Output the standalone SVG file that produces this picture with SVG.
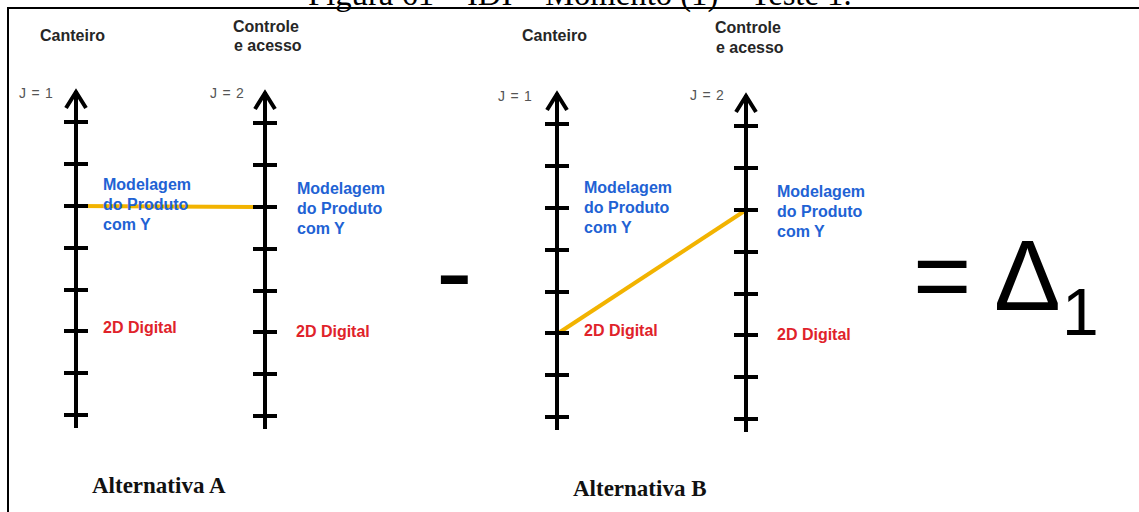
<svg xmlns="http://www.w3.org/2000/svg" xmlns:xlink="http://www.w3.org/1999/xlink" width="1139" height="512" viewBox="0 0 1139 512">
<style>
.hdr{font-family:"Liberation Sans",Arial,sans-serif;font-weight:bold;font-size:16px;fill:#262626}
.j{font-family:"Liberation Sans",Arial,sans-serif;font-size:14px;fill:#555;word-spacing:1.5px}
.blue{font-family:"Liberation Sans",Arial,sans-serif;font-weight:bold;font-size:16px;fill:#2162d4}
.red{font-family:"Liberation Sans",Arial,sans-serif;font-weight:bold;font-size:16px;fill:#e0222a}
.alt{font-family:"Liberation Serif","Times New Roman",serif;font-weight:bold;font-size:23px;fill:#111}
.big{font-family:"Liberation Sans",Arial,sans-serif;fill:#000}
.title{font-family:"Liberation Serif","Times New Roman",serif;font-size:32.7px;fill:#000}
.conn{stroke:#f2b300;stroke-width:4;fill:none;stroke-linecap:butt}
.ax{stroke:#000;stroke-width:4;fill:none}
</style>
<defs>
<g id="axis">
<line class="ax" x1="0" y1="1" x2="0" y2="338"/>
<polyline class="ax" points="-10,18 0,2 10,18" stroke-linejoin="miter"/>
<path class="ax" d="M-12,32H12M-12,74H12M-12,116H12M-12,158H12M-12,200H12M-12,241H12M-12,283H12M-12,325H12"/>
</g>
</defs>
<rect width="1139" height="512" fill="#fff"/>
<text class="title" x="308" y="5">Figura 61 – IDI – Momento (1) – Teste 1.</text>
<path d="M8,512V8H1139" stroke="#000" stroke-width="2" fill="none"/>
<g id="connectors">
<line class="conn" x1="76" y1="206" x2="265" y2="207"/>
<line class="conn" x1="557" y1="334" x2="746" y2="210"/>
</g>
<g id="a-canteiro">
<use xlink:href="#axis" transform="translate(76,90)"/>
<text class="hdr" x="40" y="41">Canteiro</text>
<text class="j" x="19" y="98">J = 1</text>
<text class="blue"><tspan x="103" y="190">Modelagem</tspan><tspan x="103" y="210">do Produto</tspan><tspan x="103" y="230">com Y</tspan></text>
<text class="red" x="103" y="333">2D Digital</text>
</g>
<g id="a-controle">
<use xlink:href="#axis" transform="translate(265,91)"/>
<text class="hdr"><tspan x="233" y="32">Controle</tspan><tspan x="234" y="51">e acesso</tspan></text>
<text class="j" x="210" y="98">J = 2</text>
<text class="blue"><tspan x="297" y="194">Modelagem</tspan><tspan x="297" y="214">do Produto</tspan><tspan x="297" y="234">com Y</tspan></text>
<text class="red" x="296" y="337">2D Digital</text>
</g>
<g id="b-canteiro">
<use xlink:href="#axis" transform="translate(557,92)"/>
<text class="hdr" x="522" y="41">Canteiro</text>
<text class="j" x="498" y="101">J = 1</text>
<text class="blue"><tspan x="584" y="193">Modelagem</tspan><tspan x="584" y="213">do Produto</tspan><tspan x="584" y="233">com Y</tspan></text>
<text class="red" x="584" y="336">2D Digital</text>
</g>
<g id="b-controle">
<use xlink:href="#axis" transform="translate(746,94)"/>
<text class="hdr"><tspan x="715" y="33">Controle</tspan><tspan x="716" y="53">e acesso</tspan></text>
<text class="j" x="690" y="100">J = 2</text>
<text class="blue"><tspan x="777" y="197">Modelagem</tspan><tspan x="777" y="217">do Produto</tspan><tspan x="777" y="237">com Y</tspan></text>
<text class="red" x="777" y="340">2D Digital</text>
</g>
<g id="operators">
<text class="big" x="436" y="309" font-size="110">-</text>
<text class="big" x="913" y="310" font-size="100">=</text>
<text class="big" x="994" y="310" font-size="100">Δ</text>
<text class="big" x="1062" y="335" font-size="66">1</text>
</g>
<text class="alt" x="92" y="493">Alternativa A</text>
<text class="alt" x="573" y="496">Alternativa B</text>
</svg>
